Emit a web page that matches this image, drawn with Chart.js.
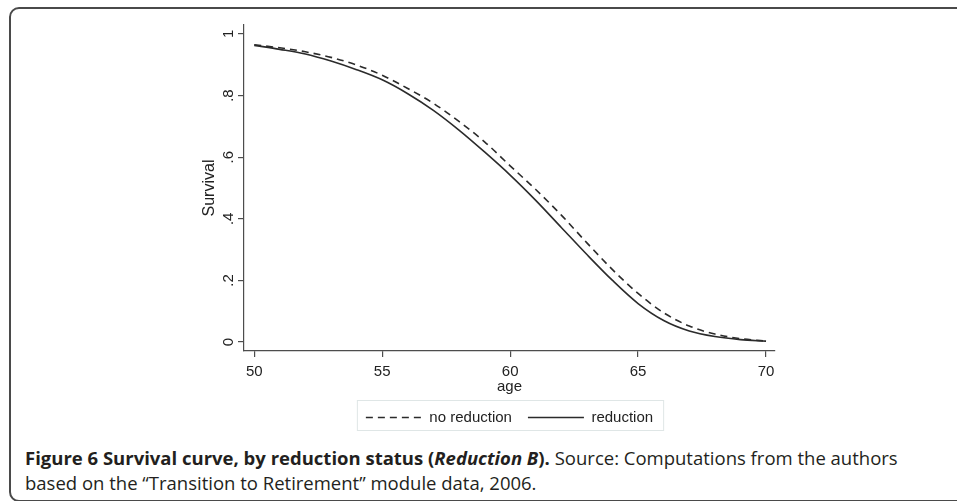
<!DOCTYPE html>
<html>
<head>
<meta charset="utf-8">
<script src="https://cdn.jsdelivr.net/npm/chart.js@4.4.1/dist/chart.umd.min.js"></script>
<style>
  html, body { margin: 0; padding: 0; background: #fff; overflow: hidden; }
  body { width: 957px; height: 501px; position: relative; }
  #frame {
    position: absolute; left: 9px; top: 7px; width: 1100px; height: 491px;
    border: 2px solid #4a4a4a; border-radius: 10px;
  }
  #chart { position: absolute; left: 150px; top: 0; }
  #caption {
    position: absolute; left: 25px; top: 445px;
    font-family: "Open Sans", sans-serif; font-size: 18.5px; line-height: 25px;
    color: #231f20; white-space: nowrap;
  }
  #caption b { font-weight: 700; }
</style>
</head>
<body>
<div id="frame"></div>
<canvas id="chart" width="719" height="440"></canvas>
<div id="caption"><b>Figure 6 Survival curve, by reduction status (<i>Reduction B</i>).</b> Source: Computations from the authors<br>based on the “Transition to Retirement” module data, 2006.</div>
<script>
// one value per year of age
const ages = [50, 51, 52, 53, 54, 55, 56, 57, 58, 59, 60, 61, 62, 63, 64, 65, 66, 67, 68, 69, 70];
const noReduction = [0.965, 0.955, 0.942, 0.924, 0.899, 0.866, 0.823, 0.775, 0.716, 0.650, 0.572,
  0.495, 0.412, 0.322, 0.235, 0.158, 0.095, 0.052, 0.026, 0.011, 0.003];
const reduction = [0.963, 0.950, 0.935, 0.912, 0.884, 0.851, 0.806, 0.752, 0.688, 0.617, 0.542,
  0.460, 0.372, 0.284, 0.200, 0.125, 0.070, 0.036, 0.018, 0.008, 0.003];
const xTicks = [50, 55, 60, 65, 70];
const yTicks = [0, 0.2, 0.4, 0.6, 0.8, 1];
const yTickLabels = ['0', '.2', '.4', '.6', '.8', '1'];

const ink = '#2b2b2b';
const axisColor = '#4d4d4d';
const font = 'Liberation Sans, Arial, sans-serif';

// thin box round the legend, like the Stata one
const legendFrame = {
  id: 'legendFrame',
  afterDraw(chart) {
    const hb = chart.legend.legendHitBoxes;
    if (!hb || !hb.length) return;
    const last = hb[hb.length - 1];
    const ctx = chart.ctx;
    const left = hb[0].left - 9;
    const right = last.left + last.width + 10;
    const top = hb[0].top - 10;
    const bottom = hb[0].top + hb[0].height + 5;
    ctx.save();
    ctx.strokeStyle = '#dfe6e6';
    ctx.lineWidth = 1;
    ctx.strokeRect(left + 0.5, top + 0.5, right - left, bottom - top);
    ctx.restore();
  }
};

new Chart(document.getElementById('chart'), {
  type: 'line',
  data: {
    datasets: [
      {
        label: 'no reduction',
        data: ages.map((a, i) => ({ x: a, y: noReduction[i] })),
        borderColor: ink, borderWidth: 1.6, borderDash: [7, 5],
        pointRadius: 0, cubicInterpolationMode: 'monotone', fill: false
      },
      {
        label: 'reduction',
        data: ages.map((a, i) => ({ x: a, y: reduction[i] })),
        borderColor: ink, borderWidth: 1.6,
        pointRadius: 0, cubicInterpolationMode: 'monotone', fill: false
      }
    ]
  },
  options: {
    responsive: false,
    animation: false,
    devicePixelRatio: 1,
    layout: { padding: { top: 25, right: 0, bottom: 5, left: 0 } },
    plugins: {
      tooltip: { enabled: false },
      legend: {
        position: 'bottom',
        labels: {
          usePointStyle: true, pointStyle: 'line', pointStyleWidth: 56,
          padding: 16, color: '#222', font: { family: font, size: 15, lineHeight: 1 },
          generateLabels: chart => Chart.defaults.plugins.legend.labels.generateLabels(chart).map((l, i) => ({
            ...l,
            lineDash: chart.data.datasets[i].borderDash || [],
            lineWidth: 1.6,
            strokeStyle: ink
          }))
        }
      }
    },
    scales: {
      x: {
        type: 'linear', min: 49.6, max: 70.35,
        afterBuildTicks: s => { s.ticks = xTicks.map(v => ({ value: v })); },
        afterFit: s => { s.height = 43; },
        ticks: { padding: 7, color: '#222', maxRotation: 0, font: { family: font, size: 15, lineHeight: 1 } },
        grid: { drawOnChartArea: false, tickLength: 6, color: axisColor, lineWidth: 1.2 },
        border: { color: axisColor, width: 1.2 },
        title: { display: true, text: 'age', color: '#222', padding: 0, font: { family: font, size: 15, lineHeight: 1 } }
      },
      y: {
        type: 'linear', min: -0.029, max: 1.029,
        afterBuildTicks: s => { s.ticks = yTicks.map(v => ({ value: v })); },
        afterFit: s => { s.width = 94; },
        ticks: {
          padding: 3, color: '#222', minRotation: 90, maxRotation: 90, crossAlign: 'center',
          font: { family: font, size: 15, lineHeight: 1 },
          callback: v => yTickLabels[yTicks.indexOf(v)]
        },
        grid: { drawOnChartArea: false, tickLength: 6, color: axisColor, lineWidth: 1.2 },
        border: { color: axisColor, width: 1.2 },
        title: { display: true, text: 'Survival', color: '#222', padding: { top: 52, bottom: 0 }, font: { family: font, size: 16, lineHeight: 1 } }
      },
      // empty right-hand spacer so the legend centres under the plot
      yRight: {
        position: 'right', display: true,
        afterFit: s => { s.width = 94; },
        ticks: { display: false },
        grid: { display: false },
        border: { display: false }
      }
    }
  },
  plugins: [legendFrame]
});
</script>
</body>
</html>
